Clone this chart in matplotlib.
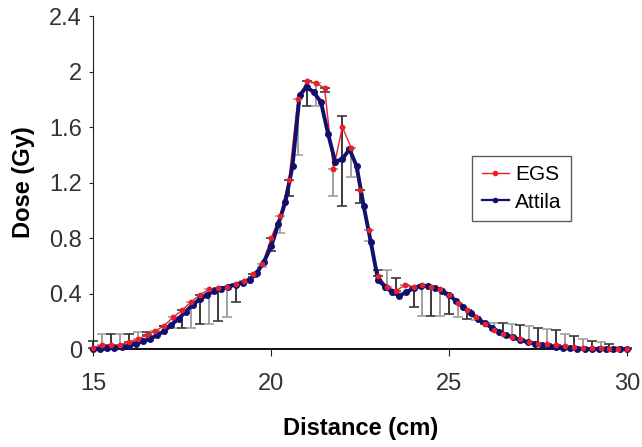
import matplotlib
matplotlib.use('Agg')
import matplotlib.pyplot as plt
from matplotlib.lines import Line2D
import numpy as np

plt.rcParams['font.family'] = ['Liberation Sans', 'DejaVu Sans']

# EGS (Monte Carlo) - pontos a cada 0.25 cm
egs_x = np.arange(15.0, 30.01, 0.25)
egs_dose = [0.01, 0.03, 0.03, 0.03, 0.05, 0.07, 0.10, 0.13,
            0.17, 0.23, 0.28, 0.34, 0.39, 0.43, 0.44, 0.45,
            0.47, 0.49, 0.54, 0.61, 0.80, 0.96, 1.22, 1.80,
            1.93, 1.92, 1.88, 1.30, 1.60, 1.45, 1.15, 0.86,
            0.53, 0.45, 0.42, 0.46, 0.45, 0.46, 0.45, 0.43,
            0.39, 0.33, 0.28, 0.23, 0.18, 0.14, 0.11, 0.09,
            0.07, 0.05, 0.04, 0.035, 0.03, 0.02, 0.015, 0.01,
            0.01, 0.005, 0.0, 0.0, 0.0]
err_low = [0, 0, 0, 0, 0, 0, 0, 0,
           0, 0.08, 0.13, 0.19, 0.21, 0.25, 0.24, 0.22,
           0.13, 0.01, 0.02, 0.02, 0.09, 0.12, 0.12, 0.40,
           0.18, 0.17, 0.03, 0.20, 0.57, 0.21, 0.10, 0.08,
           0, 0, 0, 0, 0.15, 0.22, 0.21, 0.19,
           0.14, 0.10, 0.06, 0.02, 0, 0, 0, 0,
           0, 0, 0, 0, 0, 0, 0, 0,
           0, 0, 0, 0, 0]
err_high = [0.05, 0.08, 0.08, 0.08, 0.06, 0.05, 0.02, 0.0,
            0, 0, 0, 0, 0, 0, 0, 0,
            0, 0, 0, 0, 0, 0, 0, 0,
            0, 0, 0, 0, 0.08, 0, 0, 0,
            0.04, 0.12, 0.09, 0, 0, 0, 0, 0,
            0, 0, 0, 0, 0.01, 0.05, 0.08, 0.09,
            0.105, 0.115, 0.11, 0.11, 0.105, 0.09, 0.08, 0.06,
            0.05, 0.045, 0.035, 0.018, 0.005]

# Attila - pontos a cada 0.2 cm
attila_x = np.arange(15.0, 30.01, 0.2)
attila_dose = [0.0, 0.0, 0.005, 0.01, 0.015, 0.025, 0.04, 0.055, 0.075, 0.10,
               0.13, 0.175, 0.22, 0.27, 0.32, 0.36, 0.39, 0.42, 0.435, 0.45,
               0.465, 0.48, 0.50, 0.55, 0.63, 0.74, 0.90, 1.06, 1.32, 1.83,
               1.89, 1.85, 1.78, 1.55, 1.35, 1.37, 1.44, 1.32, 1.03, 0.77,
               0.50, 0.45, 0.41, 0.385, 0.41, 0.44, 0.455, 0.455, 0.44, 0.42,
               0.39, 0.345, 0.30, 0.26, 0.22, 0.185, 0.155, 0.125, 0.10, 0.085,
               0.065, 0.05, 0.04, 0.03, 0.02, 0.012, 0.008, 0.005, 0.003, 0.002,
               0.0, 0.0, 0.0, 0.0, 0.0, 0.0]

fig = plt.figure(figsize=(6.42, 4.47), dpi=100)
ax = fig.add_axes([0.145, 0.219, 0.832, 0.745])

# barras de erro (alternando cinza escuro / claro)
for i in range(len(egs_x)):
    cor = '#3a3a3a' if i % 2 == 0 else '#a0a0a0'
    ax.errorbar(egs_x[i], egs_dose[i], yerr=[[err_low[i]], [err_high[i]]],
                fmt='none', ecolor=cor, elinewidth=1.4, capsize=3.5,
                capthick=1.2, zorder=1, clip_on=False)

ax.plot(egs_x, egs_dose, color='#e8202a', linewidth=1.0,
        marker='o', markersize=3, zorder=2, clip_on=False)
ax.plot(attila_x, attila_dose, color='#10106e', linewidth=2.8,
        marker='o', markersize=4, zorder=3, clip_on=False)
ax.plot(egs_x, egs_dose, linestyle='none', color='#e8202a', marker='o',
        markersize=3, zorder=4, clip_on=False)

ax.set_xlim(15, 30)
ax.set_ylim(0, 2.4)
ax.set_xticks([15, 20, 25, 30])
ax.set_yticks([0, 0.4, 0.8, 1.2, 1.6, 2.0, 2.4])
ax.set_yticklabels(['0', '0.4', '0.8', '1.2', '1.6', '2', '2.4'])
ax.tick_params(axis='both', labelsize=17, colors='#222222', labelcolor='#333333')
ax.tick_params(axis='x', direction='out', length=5, pad=12)
ax.tick_params(axis='y', direction='out', length=3, pad=5)

ax.spines['top'].set_visible(False)
ax.spines['right'].set_visible(False)
ax.spines['left'].set_color('#222222')
ax.spines['bottom'].set_color('#111111')
ax.spines['bottom'].set_linewidth(1.4)

ax.set_xlabel('Distance (cm)', fontsize=17, fontweight='bold', labelpad=16)
ax.set_ylabel('Dose (Gy)', fontsize=17, fontweight='bold', labelpad=10)

# legenda com linhas finas como no Excel
handles = [Line2D([], [], color='#e8202a', linewidth=1.0, marker='o', markersize=3),
           Line2D([], [], color='#10106e', linewidth=1.6, marker='o', markersize=3)]
leg = ax.legend(handles, ['EGS', 'Attila'], loc='upper left',
                bbox_to_anchor=(0.71, 0.58), fontsize=15, frameon=True,
                fancybox=False, edgecolor='#333333', handlelength=1.3,
                handletextpad=0.3, borderpad=0.45, labelspacing=0.4,
                borderaxespad=0)
leg.get_frame().set_linewidth(1.0)

plt.savefig('out.png', dpi=100)
